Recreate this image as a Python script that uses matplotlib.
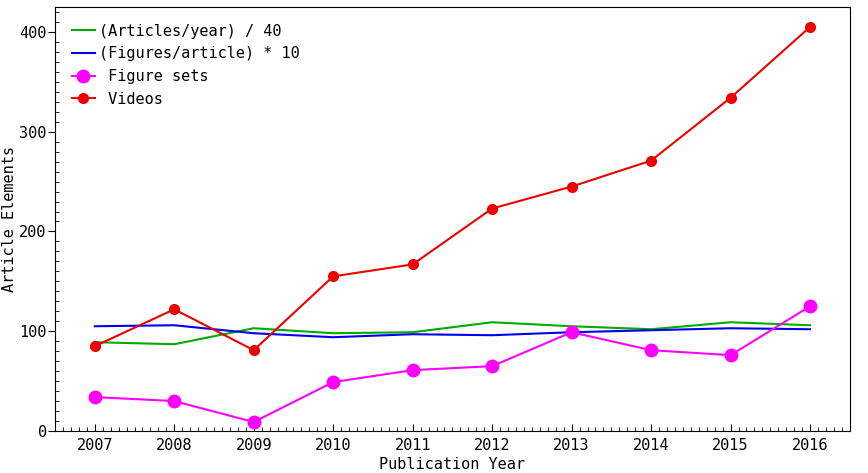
import matplotlib

matplotlib.use("Agg")
import matplotlib.pyplot as plt
from matplotlib.ticker import MultipleLocator

plt.rcParams["font.family"] = "DejaVu Sans Mono"
plt.rcParams["font.size"] = 11

years = [2007, 2008, 2009, 2010, 2011, 2012, 2013, 2014, 2015, 2016]
articles_per_year_40 = [89, 87, 103, 98, 99, 109, 105, 102, 109, 106]
figures_per_article_10 = [105, 106, 98, 94, 97, 96, 99, 101, 103, 102]
figure_sets = [34, 30, 9, 49, 61, 65, 99, 81, 76, 125]
videos = [85, 122, 81, 155, 167, 223, 245, 271, 334, 405]

fig = plt.figure(figsize=(8.68, 4.73), dpi=100)
ax = fig.add_axes([0.0634, 0.0888, 0.9156, 0.8964])

ax.plot(years, articles_per_year_40, color="#00aa00", lw=1.5, label="(Articles/year) / 40")
ax.plot(years, figures_per_article_10, color="#0000ee", lw=1.5, label="(Figures/article) * 10")
ax.plot(years, figure_sets, color="#ff00ff", lw=1.5, marker="o", ms=9, label=" Figure sets")
ax.plot(years, videos, color="#ee0000", lw=1.5, marker="o", ms=7, label=" Videos")

ax.set_xlim(2006.5, 2016.5)
ax.set_ylim(0, 425)
ax.set_xticks(years)
ax.xaxis.set_minor_locator(MultipleLocator(0.1))
ax.yaxis.set_major_locator(MultipleLocator(100))
ax.yaxis.set_minor_locator(MultipleLocator(10))
ax.tick_params(axis="x", which="major", direction="in", length=5, pad=5)
ax.tick_params(axis="y", which="major", direction="out", length=5, pad=1)
ax.tick_params(which="minor", direction="in", length=3)

ax.set_xlabel("Publication Year", labelpad=3)
ax.set_ylabel("Article Elements", labelpad=2)
ax.legend(loc="upper left", frameon=False, handlelength=1.5, handletextpad=0.3,
          labelspacing=0.5, borderaxespad=0.6, borderpad=0.5)

fig.savefig("out.png", dpi=100)
